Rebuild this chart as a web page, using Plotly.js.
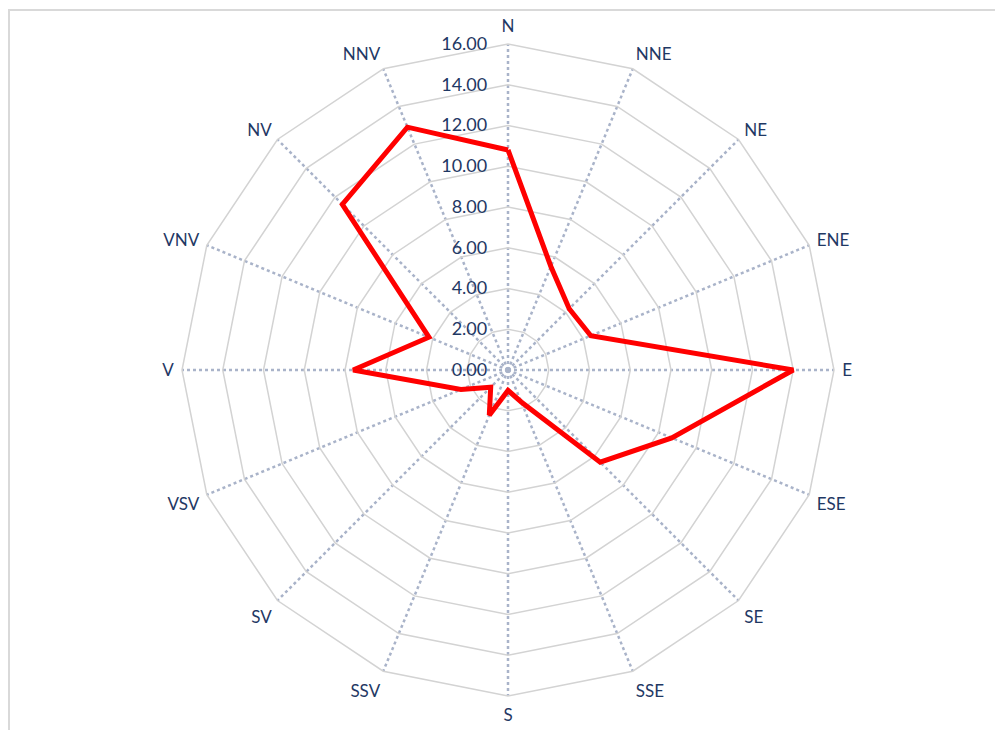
<!DOCTYPE html>
<html>
<head>
<meta charset="utf-8">
<script src="https://cdn.plot.ly/plotly-3.0.1.min.js"></script>
<style>
  html, body { margin: 0; padding: 0; background: #ffffff; }
  #chart { width: 995px; height: 730px; position: relative; }
  #frame { position: absolute; left: 8px; top: 9px; width: 1000px; height: 800px;
           border: 2px solid #d9d9d9; pointer-events: none; box-sizing: border-box; }
</style>
</head>
<body>
<div id="chart"></div>
<div id="frame"></div>
<script>
// Wind directions (Romanian abbreviations)
const directions = ["N", "NNE", "NE", "ENE", "E", "ESE", "SE", "SSE",
                    "S", "SSV", "SV", "VSV", "V", "VNV", "NV", "NNV"];
// Frequency values per direction
const values = [10.8, 5.5, 4.25, 4.4, 14.0, 8.7, 6.4, 1.7,
                1.0, 2.4, 1.2, 2.5, 7.6, 4.2, 11.5, 12.9];
// Radial ticks
const radialTicks = [0, 2, 4, 6, 8, 10, 12, 14, 16];

const thetaClosed = directions.concat([directions[0]]);
const rClosed = values.concat([values[0]]);

const textColor = "#1f3864";
const gridColor = "#d3d3d3";

const trace = {
  type: "scatterpolar",
  mode: "lines",
  r: rClosed,
  theta: thetaClosed,
  line: { color: "#ff0000", width: 5 },
  hoverinfo: "skip",
  showlegend: false
};

const W = 995, H = 730, cx = 508, cy = 370, R = 326;

const layout = {
  width: W, height: H,
  margin: { l: 0, r: 0, t: 0, b: 0 },
  paper_bgcolor: "#ffffff",
  showlegend: false,
  font: { family: "Lato, 'Open Sans', sans-serif", color: textColor },
  polar: {
    domain: { x: [(cx - R) / W, (cx + R) / W], y: [(H - cy - R) / H, (H - cy + R) / H] },
    bgcolor: "#ffffff",
    gridshape: "linear",
    angularaxis: {
      type: "category",
      categoryorder: "array",
      categoryarray: directions,
      direction: "clockwise",
      rotation: 90,
      showline: true,
      linecolor: gridColor,
      linewidth: 1.5,
      showgrid: true,
      gridcolor: "#a9b3c9",
      gridwidth: 2.5,
      griddash: "dot",
      ticks: "outside",
      ticklen: 4,
      tickcolor: "rgba(0,0,0,0)",
      tickfont: { size: 17, color: textColor, family: "Lato, 'Open Sans', sans-serif" }
    },
    radialaxis: {
      range: [0, 16],
      tickvals: radialTicks,
      tickformat: ".2f",
      angle: 90,
      tickangle: 90,
      side: "counterclockwise",
      showline: false,
      ticks: "outside",
      ticklen: 14,
      tickcolor: "rgba(0,0,0,0)",
      showgrid: true,
      gridcolor: gridColor,
      gridwidth: 1.5,
      tickfont: { size: 18, color: textColor, family: "Lato, 'Open Sans', sans-serif" }
    }
  }
};

Plotly.newPlot("chart", [trace], layout, { displayModeBar: false, staticPlot: true });
</script>
</body>
</html>
